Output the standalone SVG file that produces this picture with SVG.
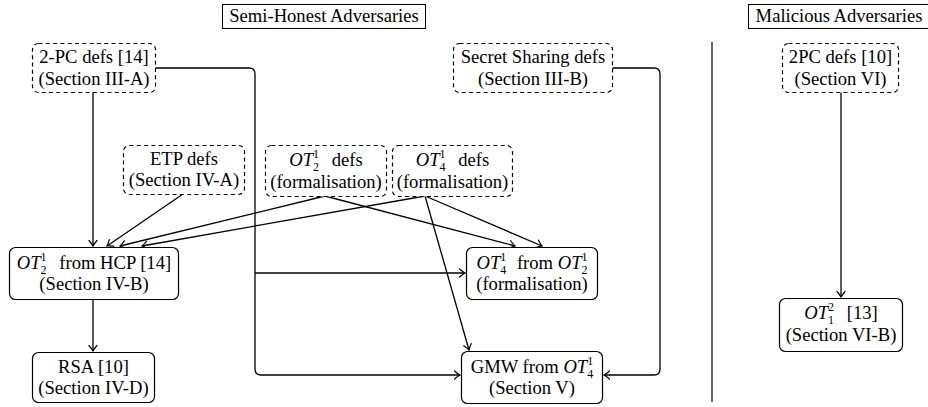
<svg xmlns="http://www.w3.org/2000/svg" width="928" height="407" viewBox="0 0 928 407">
<style>
text{font-family:'Liberation Serif','DejaVu Serif',serif;font-size:18.6px;fill:#000;text-anchor:middle}
.m{font-style:italic}
.s{font-size:12px}
.nd{fill:#fff;stroke:#000;stroke-width:1.2}
.dash{stroke-dasharray:4 3.3}
.c{fill:none;stroke:#000;stroke-width:1.3}
.hdr{fill:#fff;stroke:#000;stroke-width:1}
</style>
<defs>
<marker id="ar" viewBox="-8 -6 10 12" markerWidth="10" markerHeight="12" refX="0" refY="0" orient="auto" markerUnits="userSpaceOnUse">
<path d="M-5.5,-4 Q-2,-1 0,0 Q-2,1 -5.5,4" fill="none" stroke="#000" stroke-width="1.2" stroke-linecap="round"/>
</marker>
</defs>
<rect width="928" height="407" fill="#fff"/>

<g id="headers" font-family="Liberation Serif, DejaVu Serif, serif">
<rect class="hdr" x="222.5" y="4.5" width="203" height="24"/>
<text x="324" y="22">Semi-Honest Adversaries</text>
<rect class="hdr" x="748.5" y="4.5" width="184" height="24"/>
<text x="839" y="22">Malicious Adversaries</text>
</g>

<line x1="712" y1="42" x2="712" y2="402" stroke="#000" stroke-width="1.2"/>

<g id="connectors">
<path class="c" d="M93,92 V246" marker-end="url(#ar)"/>
<path class="c" d="M155,68 H249 Q255,68 255,74 V369 Q255,375 261,375 H460" marker-end="url(#ar)"/>
<path class="c" d="M255,273 H465" marker-end="url(#ar)"/>
<path class="c" d="M612,68 H654 Q660,68 660,74 V369 Q660,375 654,375 H604" marker-end="url(#ar)"/>
<path class="c" d="M183,194 L107,246" marker-end="url(#ar)"/>
<path class="c" d="M325,196 L120,246" marker-end="url(#ar)"/>
<path class="c" d="M425,196 L142,246" marker-end="url(#ar)"/>
<path class="c" d="M325,196 L515,246" marker-end="url(#ar)"/>
<path class="c" d="M425,196 L542,246" marker-end="url(#ar)"/>
<path class="c" d="M425,196 L469,350" marker-end="url(#ar)"/>
<path class="c" d="M93,299 V351" marker-end="url(#ar)"/>
<path class="c" d="M841,92 V297" marker-end="url(#ar)"/>
</g>

<g id="pc2">
<rect class="nd dash" x="32.5" y="43.5" width="123" height="49" rx="6"/>
<text x="94" y="63">2-PC defs [14]</text>
<text x="94" y="85">(Section III-A)</text>
</g>

<g id="ss">
<rect class="nd dash" x="453.5" y="43.5" width="159" height="49" rx="6"/>
<text x="533" y="63">Secret Sharing defs</text>
<text x="533" y="85">(Section III-B)</text>
</g>

<g id="etp">
<rect class="nd dash" x="123.5" y="145.5" width="121" height="49" rx="6"/>
<text x="184" y="165">ETP defs</text>
<text x="184" y="186">(Section IV-A)</text>
</g>

<g id="ot2defs">
<rect class="nd dash" x="265.5" y="145.5" width="121" height="51" rx="6"/>
<text x="326" y="166"><tspan class="m">OT</tspan><tspan class="s" dy="-8.5">1</tspan><tspan class="s" dx="-6" dy="13.5">2</tspan><tspan dx="8" dy="-5"> defs</tspan></text>
<text x="326" y="188">(formalisation)</text>
</g>

<g id="ot4defs">
<rect class="nd dash" x="392.5" y="145.5" width="120" height="51" rx="6"/>
<text x="452.5" y="166"><tspan class="m">OT</tspan><tspan class="s" dy="-8.5">1</tspan><tspan class="s" dx="-6" dy="13.5">4</tspan><tspan dx="8" dy="-5"> defs</tspan></text>
<text x="452.5" y="188">(formalisation)</text>
</g>

<g id="ot2hcp">
<rect class="nd" x="9.5" y="247.5" width="169" height="52" rx="6"/>
<text x="94" y="269"><tspan class="m">OT</tspan><tspan class="s" dy="-8.5">1</tspan><tspan class="s" dx="-6" dy="13.5">2</tspan><tspan dx="8" dy="-5"> from HCP [14]</tspan></text>
<text x="94" y="290">(Section IV-B)</text>
</g>

<g id="ot4from">
<rect class="nd" x="466.5" y="247.5" width="131" height="52" rx="6"/>
<text x="532" y="269"><tspan class="m">OT</tspan><tspan class="s" dy="-8.5">1</tspan><tspan class="s" dx="-6" dy="13.5">4</tspan><tspan dx="6" dy="-5"> from </tspan><tspan class="m">OT</tspan><tspan class="s" dy="-8.5">1</tspan><tspan class="s" dx="-6" dy="13.5">2</tspan></text>
<text x="532" y="290">(formalisation)</text>
</g>

<g id="rsa">
<rect class="nd" x="32.5" y="352.5" width="122" height="50" rx="6"/>
<text x="93.5" y="373">RSA [10]</text>
<text x="93.5" y="394">(Section IV-D)</text>
</g>

<g id="gmw">
<rect class="nd" x="461.5" y="351.5" width="141" height="52" rx="6"/>
<text x="532" y="373">GMW from <tspan class="m">OT</tspan><tspan class="s" dy="-8.5">1</tspan><tspan class="s" dx="-6" dy="13.5">4</tspan></text>
<text x="532" y="394">(Section V)</text>
</g>

<g id="pc2mal">
<rect class="nd dash" x="782.5" y="43.5" width="116" height="49" rx="6"/>
<text x="840.5" y="63">2PC defs [10]</text>
<text x="840.5" y="85">(Section VI)</text>
</g>

<g id="ot12">
<rect class="nd" x="779.5" y="298.5" width="123" height="53" rx="6"/>
<text x="841" y="319"><tspan class="m">OT</tspan><tspan class="s" dy="-8.5">2</tspan><tspan class="s" dx="-6" dy="13.5">1</tspan><tspan dx="8" dy="-5"> [13]</tspan></text>
<text x="841" y="341">(Section VI-B)</text>
</g>
</svg>
